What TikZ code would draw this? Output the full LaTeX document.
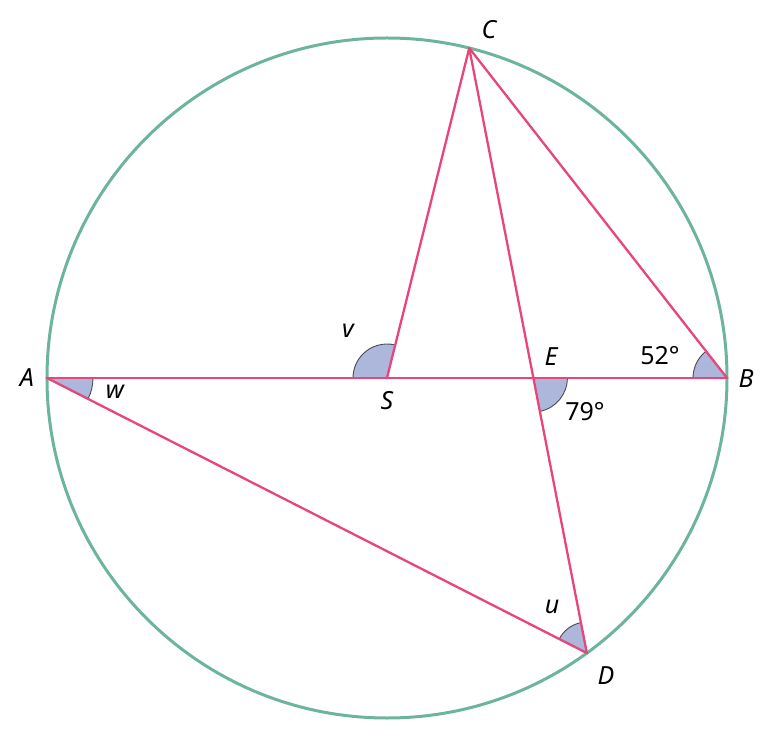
\documentclass[tikz,border=0pt]{standalone}
\usepackage{fontspec}
\setmainfont{Noto Sans}
\usetikzlibrary{calc}
\definecolor{circ}{HTML}{6DB59A}
\definecolor{seg}{HTML}{E8457A}
\definecolor{angfill}{HTML}{ADB7DB}
\definecolor{angline}{HTML}{4A4A5A}
\begin{document}
\begin{tikzpicture}[x=1pt,y=1pt,
  segline/.style={draw=seg,line width=2.3pt,line cap=round,line join=round},
  circline/.style={draw=circ,line width=3pt},
  lbl/.style={font=\fontsize{25}{29}\selectfont\itshape,inner sep=0pt},
  num/.style={font=\fontsize{25}{29}\selectfont,inner sep=0pt},
  angfillst/.style={fill=angfill},
  angarc/.style={draw=angline,line width=0.9pt}]
\useasboundingbox (-387,-363) rectangle (386,378);
\coordinate (S) at (0,0);
\coordinate (A) at (180:340);
\coordinate (B) at (0:340);
\coordinate (C) at (76:340);
\coordinate (D) at (-54:340);
\coordinate (E) at (intersection of C--D and A--B);
% A: between AB (0) and AD (-27)
\fill[angfillst] (A) -- ++(0:46) arc[start angle=0,end angle=-27,radius=46] -- cycle;
\draw[angarc] ($(A)+(0:46)$) arc[start angle=0,end angle=-27,radius=46];
% S: between SC (76) and SA (180)
\fill[angfillst] (S) -- ++(76:34) arc[start angle=76,end angle=180,radius=34] -- cycle;
\draw[angarc] ($(S)+(76:34)$) arc[start angle=76,end angle=180,radius=34];
% E: between EB (0) and ED (-79)
\fill[angfillst] (E) -- ++(0:34) arc[start angle=0,end angle=-79,radius=34] -- cycle;
\draw[angarc] ($(E)+(0:34)$) arc[start angle=0,end angle=-79,radius=34];
% B: between BC (128) and BA (180)
\fill[angfillst] (B) -- ++(128:34) arc[start angle=128,end angle=180,radius=34] -- cycle;
\draw[angarc] ($(B)+(128:34)$) arc[start angle=128,end angle=180,radius=34];
% D: between DC (101) and DA (153)
\fill[angfillst] (D) -- ++(101:31) arc[start angle=101,end angle=153,radius=31] -- cycle;
\draw[angarc] ($(D)+(101:31)$) arc[start angle=101,end angle=153,radius=31];
% circle
\draw[circline] (S) circle[radius=340];
% segments
\draw[segline] (A) -- (B);
\draw[segline] (S) -- (C) -- (B);
\draw[segline] (C) -- (D) -- (A);
% labels
\node[lbl] (lA) at (-360,0) {A};
\node[lbl] (lw) at (-272,-14) {w};
\node[lbl] (lv) at (-39,47) {v};
\node[lbl] (lS) at (0,-23) {S};
\node[lbl] (lE) at (164,21) {E};
\node[num] (l79) at (198,-34) {79°};
\node[num] (l52) at (273,22) {52°};
\node[lbl] (lB) at (359,-1) {B};
\node[lbl] (lu) at (165,-229) {u};
\node[lbl] (lD) at (219,-298) {D};
\node[lbl] (lC) at (102,348) {C};
\end{tikzpicture}
\end{document}
